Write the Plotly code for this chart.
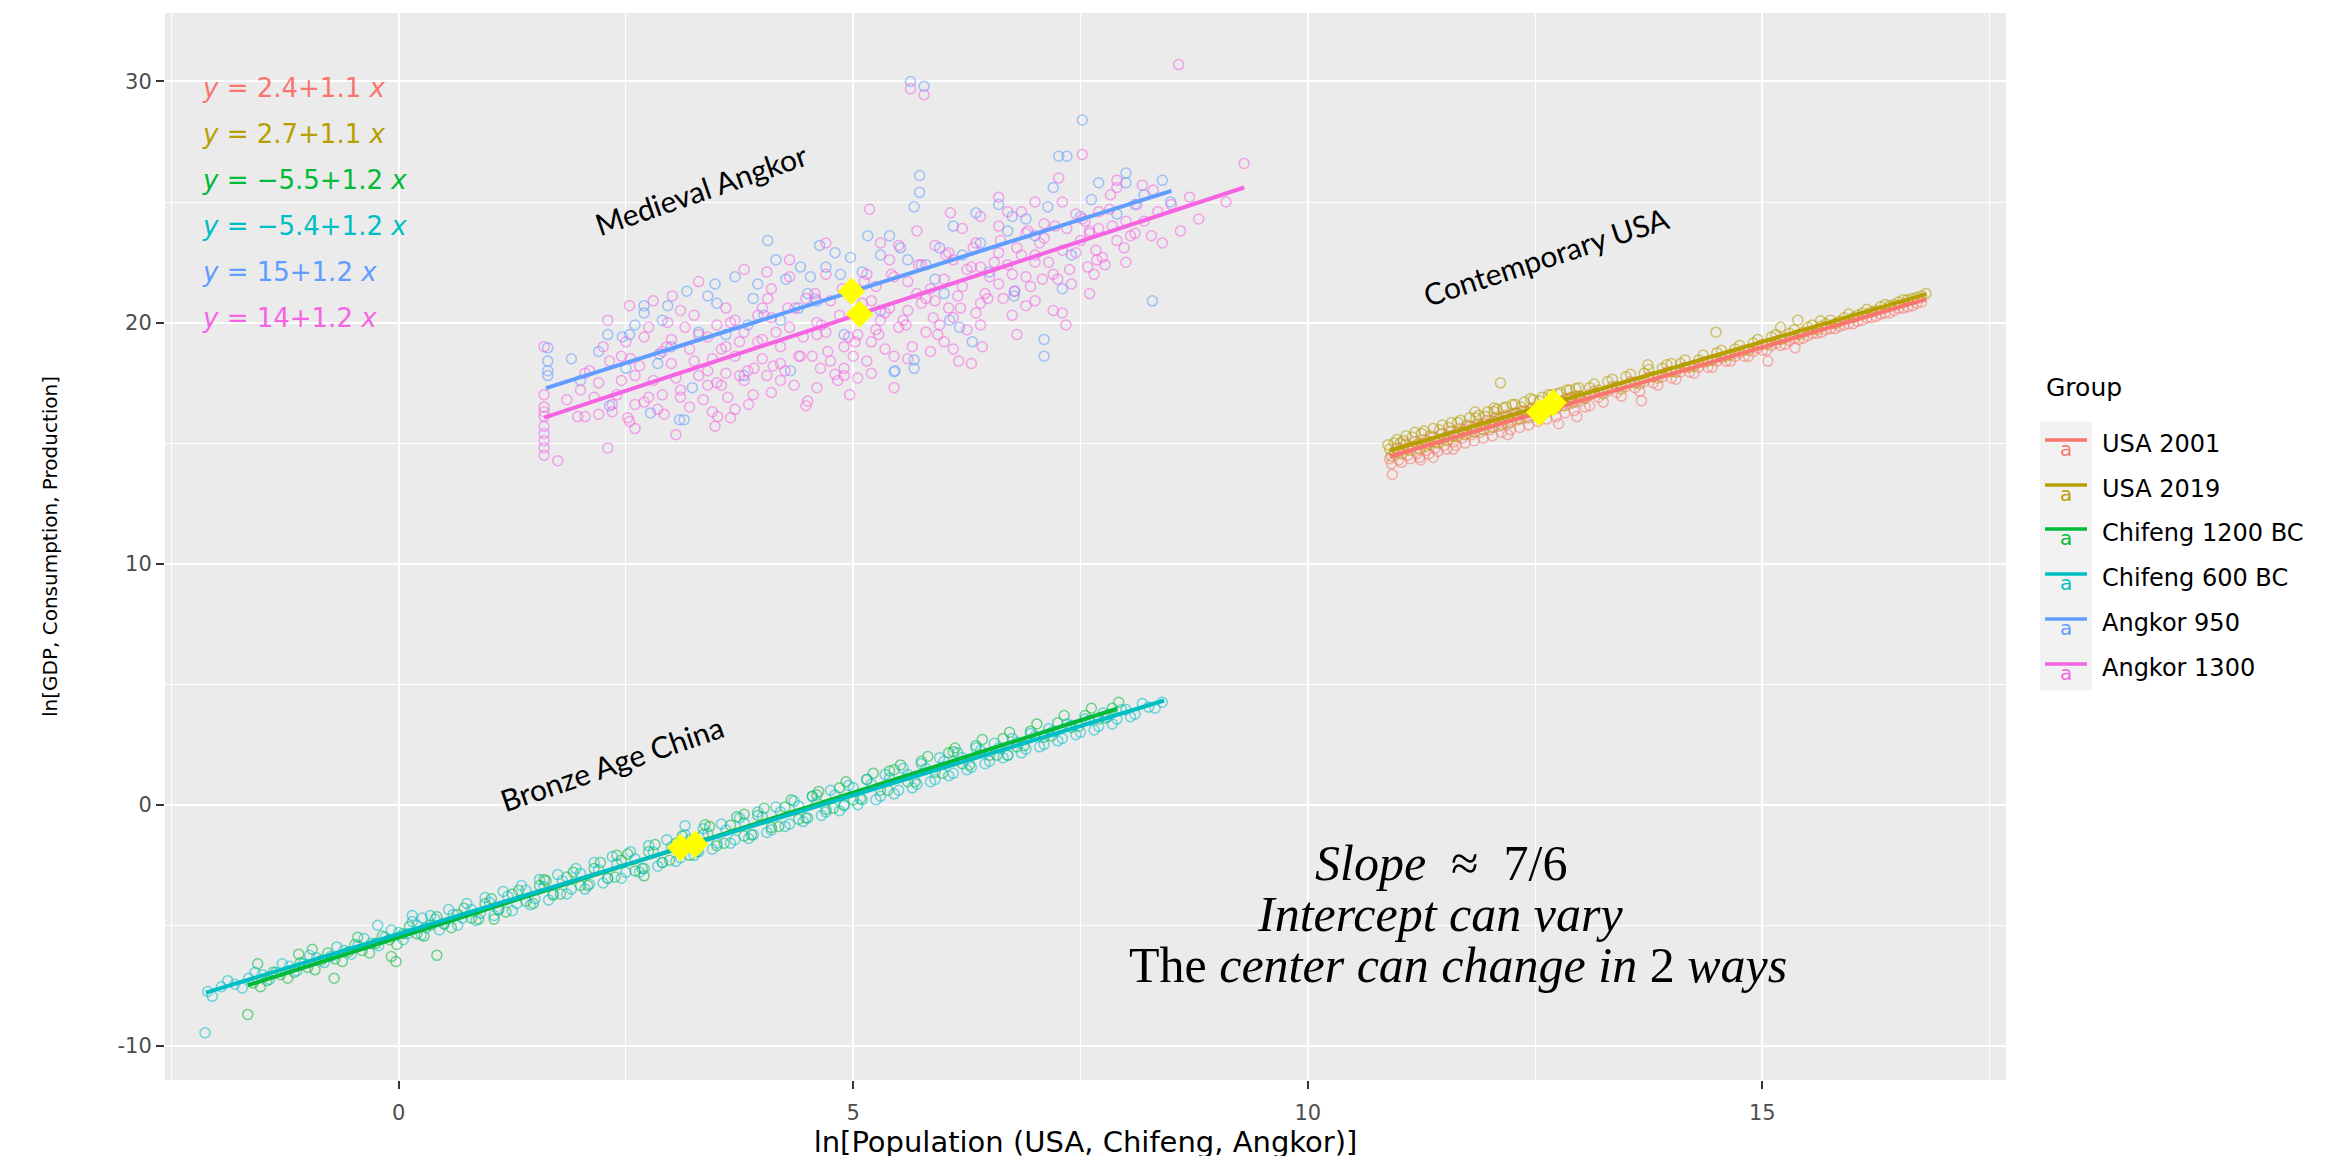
import plotly.graph_objects as go

# ---------------- figure geometry (layout only) ----------------
W, H = 2341, 1156
ML, MR, MT, MB = 157, 343, 5, 84
PW = W - ML - MR
PH = H - MT - MB

def px_x(px):
    return (px - ML) / PW

def px_y(py):
    return (H - MB - py) / PH

# ---------------- data ----------------
groups = ["USA 2001", "USA 2019", "Chifeng 1200 BC", "Chifeng 600 BC", "Angkor 950", "Angkor 1300"]
colors = ["#F8766D", "#B79F00", "#00BA38", "#00BFC4", "#619CFF", "#F564E3"]

usa2001_x = [10.90, 10.95, 11.00, 11.05, 11.10, 11.15, 11.20, 11.25, 11.30, 11.35, 11.40, 11.45, 11.50, 11.55,
             11.60, 11.65, 11.70, 11.75, 11.80, 11.85, 11.90, 11.95, 12.00, 12.05, 12.10, 12.15, 12.20, 12.25,
             12.30, 12.35, 12.40, 12.45, 12.50, 12.55, 12.60, 12.65, 12.70, 12.75, 12.80, 12.85, 12.90, 12.95,
             13.00, 13.10, 13.20, 13.30, 13.40, 13.50, 13.60, 13.70, 13.80, 13.90, 14.00, 14.10, 14.20, 14.30,
             14.40, 14.50, 14.60, 14.70, 14.80, 14.90, 15.00, 15.10, 15.20, 15.30, 15.40, 15.50, 15.60, 15.70,
             15.80, 15.90, 16.00, 16.10, 16.20, 16.30, 16.40, 16.50, 16.60, 16.70,
             10.93, 11.24, 11.38, 12.76, 12.96, 13.67, 15.06, 15.36, 11.60, 12.20, 13.10,
             10.92, 10.98, 11.03, 11.08, 11.13, 11.18, 11.23, 11.28, 11.33, 11.38, 11.43, 11.48, 11.53, 11.58,
             11.63, 11.68, 11.73, 11.78, 11.83, 11.88, 11.93, 11.98, 12.03, 12.08, 12.13, 12.18, 12.23, 12.28,
             12.33, 12.38, 12.43, 12.48, 12.53, 12.58, 12.63, 12.68, 12.73, 12.78, 12.83, 12.88, 12.93, 12.98,
             13.05, 13.15, 13.25, 13.35, 13.45, 13.55, 13.65, 13.75, 13.85, 13.95, 14.05, 14.15, 14.25, 14.35,
             14.45, 14.55, 14.65, 14.75, 14.85, 14.95, 15.05, 15.15, 15.25, 15.35, 15.45, 15.55, 15.65, 15.75,
             15.85, 15.95, 16.05, 16.15, 16.25, 16.35, 16.45, 16.55, 16.65, 16.75]
usa2001_y = [14.35, 14.60, 14.30, 14.75, 14.50, 14.85, 14.55, 14.95, 14.70, 15.05, 14.80, 15.15, 14.90, 15.30,
             15.05, 15.45, 15.20, 15.55, 15.35, 15.65, 15.45, 15.80, 15.55, 15.90, 15.70, 16.05, 15.80, 16.15,
             15.95, 16.30, 16.05, 16.40, 16.20, 16.45, 16.30, 16.60, 16.40, 16.75, 16.55, 16.85, 16.65, 16.95,
             16.75, 17.00, 16.90, 17.15, 17.10, 17.35, 17.30, 17.55, 17.50, 17.75, 17.70, 17.95, 17.95, 18.15,
             18.15, 18.40, 18.40, 18.60, 18.60, 18.80, 18.85, 19.05, 19.05, 19.25, 19.30, 19.45, 19.55, 19.70,
             19.75, 19.90, 19.95, 20.10, 20.20, 20.35, 20.40, 20.60, 20.65, 20.80,
             13.70, 14.30, 14.40, 15.80, 16.10, 16.76, 18.40, 18.95, 14.75, 15.35, 16.55,
             14.15, 14.80, 14.20, 14.95, 14.35, 15.05, 14.40, 15.15, 14.55, 15.25, 14.65, 15.40, 14.75, 15.50,
             14.90, 15.60, 15.00, 15.70, 15.10, 15.80, 15.20, 15.95, 15.30, 16.05, 15.45, 16.15, 15.55, 16.25,
             15.65, 16.35, 15.75, 16.45, 15.90, 16.55, 16.00, 16.65, 16.10, 16.75, 16.25, 16.85, 16.35, 16.95,
             16.50, 17.15, 16.70, 17.35, 16.95, 17.55, 17.15, 17.75, 17.40, 17.95, 17.65, 18.15, 17.90, 18.35,
             18.15, 18.55, 18.40, 18.75, 18.60, 18.95, 18.85, 19.15, 19.10, 19.35, 19.35, 19.55, 19.60, 19.75,
             19.85, 19.95, 20.05, 20.20, 20.25, 20.40, 20.50, 20.60, 20.70, 20.85]

usa2019_x = [10.90, 10.95, 11.00, 11.05, 11.10, 11.15, 11.20, 11.25, 11.30, 11.35, 11.40, 11.45, 11.50, 11.55,
             11.60, 11.65, 11.70, 11.75, 11.80, 11.85, 11.90, 11.95, 12.00, 12.05, 12.10, 12.15, 12.20, 12.25,
             12.30, 12.35, 12.40, 12.45, 12.50, 12.55, 12.60, 12.65, 12.70, 12.75, 12.80, 12.85, 12.90, 12.95,
             13.00, 13.10, 13.20, 13.30, 13.40, 13.50, 13.60, 13.70, 13.80, 13.90, 14.00, 14.10, 14.20, 14.30,
             14.40, 14.50, 14.60, 14.70, 14.80, 14.90, 15.00, 15.10, 15.20, 15.30, 15.40, 15.50, 15.60, 15.70,
             15.80, 15.90, 16.00, 16.10, 16.20, 16.30, 16.40, 16.50, 16.60, 16.70, 16.80,
             12.12, 14.49, 15.39, 15.64, 15.20, 10.88, 11.02, 11.84, 12.05, 14.00, 13.74,
             10.92, 10.98, 11.03, 11.08, 11.13, 11.18, 11.23, 11.28, 11.33, 11.38, 11.43, 11.48, 11.53, 11.58,
             11.63, 11.68, 11.73, 11.78, 11.83, 11.88, 11.93, 11.98, 12.03, 12.08, 12.13, 12.18, 12.23, 12.28,
             12.33, 12.38, 12.43, 12.48, 12.53, 12.58, 12.63, 12.68, 12.73, 12.78, 12.83, 12.88, 12.93, 12.98,
             13.05, 13.15, 13.25, 13.35, 13.45, 13.55, 13.65, 13.75, 13.85, 13.95, 14.05, 14.15, 14.25, 14.35,
             14.45, 14.55, 14.65, 14.75, 14.85, 14.95, 15.05, 15.15, 15.25, 15.35, 15.45, 15.55, 15.65, 15.75,
             15.85, 15.95, 16.05, 16.15, 16.25, 16.35, 16.45, 16.55, 16.65, 16.75]
usa2019_y = [14.75, 15.00, 14.65, 15.10, 14.80, 15.25, 14.95, 15.40, 14.85, 15.30, 15.05, 15.55, 15.20, 15.65,
             15.30, 15.85, 15.45, 15.75, 15.55, 16.05, 15.70, 16.10, 15.80, 16.30, 16.00, 16.45, 16.10, 16.60,
             16.25, 16.50, 16.30, 16.85, 16.40, 16.75, 16.50, 17.00, 16.65, 17.05, 16.75, 17.20, 16.90, 17.25,
             16.95, 17.30, 17.20, 17.55, 17.35, 17.75, 17.50, 17.90, 17.75, 18.10, 17.95, 18.30, 18.15, 18.45,
             18.40, 18.75, 18.60, 18.90, 18.85, 19.15, 19.10, 19.40, 19.30, 19.55, 19.50, 19.80, 19.70, 19.95,
             19.95, 20.20, 20.20, 20.40, 20.45, 20.65, 20.70, 20.85, 20.95, 21.05, 21.20,
             17.50, 19.60, 20.10, 20.07, 19.80, 14.93, 15.00, 16.30, 16.45, 18.30, 18.25,
             14.45, 15.15, 14.55, 15.30, 14.70, 15.45, 14.75, 15.50, 14.95, 15.60, 15.00, 15.75, 15.10, 15.85,
             15.25, 15.95, 15.35, 16.05, 15.45, 16.15, 15.55, 16.30, 15.65, 16.40, 15.75, 16.50, 15.85, 16.60,
             16.00, 16.70, 16.05, 16.80, 16.20, 16.90, 16.30, 17.00, 16.45, 17.10, 16.55, 17.20, 16.70, 17.30,
             16.85, 17.45, 17.05, 17.65, 17.25, 17.85, 17.45, 18.05, 17.70, 18.25, 17.95, 18.45, 18.20, 18.65,
             18.45, 18.85, 18.65, 19.05, 18.85, 19.30, 19.10, 19.50, 19.35, 19.70, 19.60, 19.90, 19.85, 20.10,
             20.05, 20.35, 20.30, 20.55, 20.50, 20.75, 20.75, 20.95, 21.00, 21.10]

chifeng1200_x = [-1.60, -1.45, -1.30, -1.15, -1.00, -0.85, -0.70, -0.55, -0.40, -0.25, -0.10, 0.05, 0.20, 0.35,
                 0.50, 0.65, 0.80, 0.95, 1.10, 1.25, 1.40, 1.55, 1.70, 1.85, 2.00, 2.15, 2.30, 2.45, 2.60, 2.75,
                 2.90, 3.05, 3.20, 3.35, 3.50, 3.65, 3.80, 3.95, 4.10, 4.25, 4.40, 4.55, 4.70, 4.85, 5.00, 5.15,
                 5.30, 5.45, 5.60, 5.75, 5.90, 6.05, 6.20, 6.35, 6.50, 6.65, 6.80, 6.95, 7.10, 7.25, 7.40, 7.55,
                 7.70, 7.85,
                 -1.66, -1.55, -0.71, -1.10, -0.95, -0.45, -0.08, -0.03, 0.42, 3.37, 1.60, 2.40, 3.80, 4.60,
                 5.40, 6.10, 1.05, 2.70, 4.90, 6.70,
                 -1.52, -1.38, -1.22, -1.08, -0.92, -0.78, -0.62, -0.48, -0.32, -0.18, -0.02, 0.12, 0.28, 0.42,
                 0.58, 0.72, 0.88, 1.02, 1.18, 1.32, 1.48, 1.62, 1.78, 1.92, 2.08, 2.22, 2.38, 2.52, 2.68, 2.82,
                 2.98, 3.12, 3.28, 3.42, 3.58, 3.72, 3.88, 4.02, 4.18, 4.32, 4.48, 4.62, 4.78, 4.92, 5.08, 5.22,
                 5.38, 5.52, 5.68, 5.82, 5.98, 6.12, 6.28, 6.42, 6.58, 6.72, 6.88, 7.02, 7.18, 7.32, 7.48, 7.62,
                 7.78, 7.92]
chifeng1200_y = [-7.40, -7.30, -7.05, -6.95, -6.75, -6.45, -6.40, -6.10, -6.05, -5.75, -5.60, -5.35, -5.35, -5.00,
                 -4.95, -4.55, -4.70, -4.10, -4.35, -3.70, -4.00, -3.35, -3.75, -3.00, -3.35, -2.65, -3.05, -2.30,
                 -2.75, -1.95, -2.40, -1.60, -2.10, -1.25, -1.70, -0.85, -1.30, -0.45, -0.95, -0.10, -0.60, 0.35,
                 -0.20, 0.70, 0.20, 1.05, 0.60, 1.45, 0.95, 1.80, 1.35, 2.15, 1.70, 2.45, 2.05, 2.75, 2.40, 3.05,
                 2.80, 3.40, 3.20, 3.70, 3.55, 4.00,
                 -8.70, -6.60, -7.20, -6.20, -6.00, -5.50, -6.30, -6.50, -6.25, -0.83, -3.10, -2.10, -0.40, 0.40,
                 1.40, 2.20, -4.75, -2.95, 0.00, 2.05,
                 -7.55, -6.95, -7.20, -6.55, -6.85, -6.15, -6.50, -5.80, -6.15, -5.45, -5.80, -5.05, -5.45, -4.65,
                 -5.10, -4.30, -4.75, -3.90, -4.45, -3.55, -4.10, -3.15, -3.70, -2.80, -3.35, -2.40, -3.00, -2.05,
                 -2.65, -1.65, -2.30, -1.30, -1.95, -0.90, -1.60, -0.50, -1.25, -0.15, -0.90, 0.20, -0.55, 0.55,
                 -0.15, 0.95, 0.25, 1.30, 0.60, 1.65, 0.95, 2.00, 1.30, 2.35, 1.65, 2.70, 2.05, 3.00, 2.45, 3.35,
                 2.85, 3.70, 3.25, 4.00, 3.60, 4.25]

chifeng600_x = [-2.10, -1.95, -1.80, -1.65, -1.50, -1.35, -1.20, -1.05, -0.90, -0.75, -0.60, -0.45, -0.30, -0.15,
                0.00, 0.10, 0.20, 0.30, 0.40, 0.50, 0.60, 0.70, 0.80, 0.90, 1.00, 1.10, 1.20, 1.30, 1.40, 1.50,
                1.60, 1.70, 1.80, 1.90, 2.00, 2.10, 2.20, 2.30, 2.40, 2.50, 2.60, 2.70, 2.80, 2.90, 3.00, 3.10,
                3.20, 3.30, 3.40, 3.50, 3.60, 3.70, 3.80, 3.90, 4.00, 4.10, 4.20, 4.30, 4.40, 4.50, 4.60, 4.70,
                4.80, 4.90, 5.00, 5.10, 5.20, 5.30, 5.40, 5.50, 5.60, 5.70, 5.80, 5.90, 6.00, 6.10, 6.20, 6.30,
                6.40, 6.50, 6.60, 6.70, 6.80, 6.90, 7.00, 7.10, 7.20, 7.30, 7.40, 7.50, 7.60, 7.70, 7.80, 7.90,
                8.00, 8.10, 8.25, 8.40,
                -2.13, 0.15, 0.26, 3.15, -0.23,
                -2.05, -1.88, -1.72, -1.58, -1.42, -1.28, -1.12, -0.98, -0.82, -0.68, -0.52, -0.38, -0.22, -0.08,
                0.05, 0.15, 0.25, 0.35, 0.45, 0.55, 0.65, 0.75, 0.85, 0.95, 1.05, 1.15, 1.25, 1.35, 1.45, 1.55,
                1.65, 1.75, 1.85, 1.95, 2.05, 2.15, 2.25, 2.35, 2.45, 2.55, 2.65, 2.75, 2.85, 2.95, 3.05, 3.15,
                3.25, 3.35, 3.45, 3.55, 3.65, 3.75, 3.85, 3.95, 4.05, 4.15, 4.25, 4.35, 4.45, 4.55, 4.65, 4.75,
                4.85, 4.95, 5.05, 5.15, 5.25, 5.35, 5.45, 5.55, 5.65, 5.75, 5.85, 5.95, 6.05, 6.15, 6.25, 6.35,
                6.45, 6.55, 6.65, 6.75, 6.85, 6.95, 7.05, 7.15, 7.25, 7.35, 7.45, 7.55, 7.65, 7.75, 7.85, 7.95,
                8.05, 8.18, 8.32]
chifeng600_y = [-7.75, -7.55, -7.45, -7.20, -7.05, -6.95, -6.70, -6.60, -6.35, -6.30, -6.05, -5.85, -5.75, -5.50,
                -5.30, -5.35, -5.00, -5.10, -4.75, -4.95, -4.55, -4.70, -4.35, -4.50, -4.05, -4.35, -3.80, -4.10,
                -3.55, -3.90, -3.40, -3.70, -3.15, -3.50, -2.85, -3.30, -2.70, -3.05, -2.45, -2.80, -2.25, -2.65,
                -1.95, -2.40, -1.75, -2.20, -1.45, -1.95, -1.20, -1.60, -1.05, -1.45, -0.75, -1.25, -0.50, -1.05,
                -0.30, -0.80, -0.05, -0.55, 0.10, -0.30, 0.40, -0.05, 0.70, 0.20, 0.85, 0.35, 1.10, 0.60, 1.25,
                0.85, 1.50, 1.05, 1.80, 1.30, 1.95, 1.55, 2.25, 1.80, 2.35, 2.05, 2.60, 2.30, 2.85, 2.50, 3.05,
                2.75, 3.30, 3.00, 3.50, 3.25, 3.65, 3.55, 3.95, 3.75, 4.05, 4.25,
                -9.46, -4.60, -4.70, -0.87, -5.00,
                -7.95, -7.30, -7.60, -6.95, -7.25, -6.60, -6.90, -6.25, -6.55, -5.90, -6.20, -5.55, -5.85, -5.20,
                -5.60, -4.85, -5.40, -4.60, -5.20, -4.35, -5.00, -4.10, -4.80, -3.85, -4.60, -3.60, -4.40, -3.35,
                -4.15, -3.10, -3.95, -2.90, -3.70, -2.65, -3.50, -2.40, -3.25, -2.15, -3.05, -1.95, -2.80, -1.70,
                -2.55, -1.45, -2.35, -1.25, -2.10, -1.00, -1.85, -0.80, -1.60, -0.55, -1.40, -0.30, -1.15, -0.10,
                -0.90, 0.15, -0.70, 0.35, -0.45, 0.60, -0.25, 0.80, 0.00, 1.05, 0.20, 1.25, 0.45, 1.50, 0.70,
                1.70, 0.95, 1.95, 1.20, 2.15, 1.45, 2.35, 1.70, 2.55, 1.95, 2.75, 2.15, 2.95, 2.40, 3.15, 2.65,
                3.35, 2.90, 3.55, 3.10, 3.80, 3.35, 3.95, 3.65, 4.20, 4.00]

angkor950_x = [1.64, 1.64, 1.64, 1.64, 2.30, 2.46, 2.54, 2.32, 2.77, 3.09, 3.14, 3.23, 2.85, 2.87, 2.70, 2.70,
               2.96, 3.17, 3.50, 3.48, 3.70, 3.84, 4.02, 4.06, 4.31, 4.26, 4.42, 4.53, 4.70, 4.63, 4.86, 4.97,
               5.16, 5.30, 5.52, 5.46, 5.67, 5.67, 5.45, 5.63, 5.78, 5.73, 5.73, 5.67, 6.06, 6.17, 6.31, 6.35,
               6.60, 6.70, 6.77, 6.77, 7.10, 7.10, 7.14, 7.30, 7.26, 7.35, 7.52, 7.62, 8.00, 8.00, 8.29, 8.49,
               6.90, 5.90, 4.40, 3.90, 2.00, 2.50, 3.00, 3.60, 4.20, 4.60, 5.00, 5.30, 5.80, 6.20, 6.50, 7.00,
               7.50, 7.90, 8.20,
               2.20, 2.60, 3.30, 3.40, 3.95, 4.15, 4.50, 4.80, 5.10, 5.40, 5.60, 5.95, 6.10, 6.40, 6.75, 7.20,
               7.70, 8.10, 8.40, 1.90, 2.90, 3.80, 4.90, 6.00, 7.40]
angkor950_y = [18.95, 18.00, 17.80, 18.40, 19.50, 19.40, 19.50, 16.55, 16.25, 15.97, 15.97, 17.30, 18.30, 18.70,
               20.70, 20.40, 20.70, 21.30, 20.80, 21.60, 21.90, 19.90, 20.30, 23.40, 18.00, 21.80, 22.30, 21.90,
               22.30, 23.20, 22.00, 22.70, 23.60, 22.80, 23.10, 18.00, 18.45, 18.10, 17.96, 30.00, 29.80, 26.10,
               25.40, 24.80, 20.10, 19.80, 19.20, 24.55, 24.90, 23.80, 21.30, 21.10, 19.30, 18.60, 24.80, 21.40,
               26.90, 26.90, 28.40, 25.10, 26.20, 25.80, 20.90, 25.00, 24.30, 21.80, 20.60, 21.00, 17.60, 18.10,
               19.00, 19.50, 20.10, 20.90, 21.30, 20.50, 22.40, 22.80, 22.10, 23.60, 24.40, 24.50, 25.30,
               18.80, 19.90, 19.60, 21.10, 21.60, 22.60, 21.20, 22.90, 22.10, 23.60, 22.60, 23.10, 24.00, 23.30,
               24.40, 25.60, 25.80, 24.90, 25.90, 18.50, 20.10, 17.80, 19.50, 21.20, 22.80]

angkor1300_x = [1.60, 1.60, 1.60, 1.60, 1.60, 1.60, 1.60, 1.60, 1.60, 1.75, 1.60,
                1.97, 2.05, 2.30, 2.32, 2.54, 2.52, 2.54, 2.20, 2.40, 2.10, 2.45, 2.60, 2.35, 2.00, 1.85, 2.50,
                2.70, 2.96, 3.01, 2.92, 3.05, 3.48, 3.51, 2.80, 3.00, 3.20, 3.30, 3.40, 2.90, 3.10, 3.35, 3.45,
                2.75, 3.15, 3.25, 3.40,
                3.62, 3.55, 3.65, 3.70, 3.84, 3.91, 4.05, 4.06, 3.60, 3.70, 3.80, 3.95, 4.00, 4.10, 4.20, 4.30,
                4.40, 4.48, 4.50, 4.48, 4.36, 4.58, 4.20, 4.10, 3.75, 4.45,
                4.64, 4.80, 4.83, 4.96, 5.18, 5.45, 4.70, 4.85, 4.90, 5.00, 5.05, 5.10, 5.20, 5.25, 5.30, 5.35,
                5.40, 5.50, 5.45, 5.00, 5.15, 4.75, 5.63, 5.78,
                5.60, 5.70, 5.80, 5.90, 5.93, 6.00, 6.07, 6.10, 6.16, 6.30, 6.42, 6.20, 6.30, 6.40, 6.50, 5.75,
                6.05, 6.35, 5.85, 6.25,
                6.75, 6.90, 6.60, 6.70, 6.80, 6.90, 7.00, 7.10, 7.20, 7.34, 7.26, 7.52, 7.45, 7.30, 6.60, 6.85,
                7.40, 7.00,
                7.58, 7.77, 7.67, 7.74, 7.60, 7.70, 7.83, 8.18, 8.30, 8.60, 9.30, 8.58, 8.00, 7.90,
                2.20, 2.60, 2.90, 3.20, 3.60, 3.90, 4.20, 4.60, 4.90, 5.20, 5.60, 6.00, 6.40, 6.80, 7.20, 7.60,
                8.00, 8.40, 8.80, 9.10, 2.30, 2.80, 3.30, 3.80, 4.30, 4.70, 5.30, 5.70, 6.20, 6.60, 7.00, 7.70,
                8.20, 3.00, 3.50, 4.00, 4.60, 5.60, 6.10, 6.60, 7.10, 7.50,
                2.15, 2.45, 2.65, 2.85, 3.05, 3.25, 3.45, 3.55, 3.75, 3.85, 4.05, 4.15, 4.25, 4.35, 4.55, 4.65,
                4.75, 4.95, 5.05, 5.15, 5.25, 5.35, 5.45, 5.55, 5.65, 5.75, 5.85, 5.95, 6.05, 6.15, 6.25, 6.35,
                6.45, 6.55, 6.65, 6.75, 6.85, 6.95, 7.05, 7.15, 7.25, 7.35, 7.45, 7.55, 7.65, 7.85, 8.05, 8.35,
                8.70, 2.25, 2.75, 3.60, 4.10, 4.70, 5.40, 5.90, 6.40, 6.90, 7.30, 7.90,
                2.05, 2.35, 2.55, 2.70, 2.95, 3.10, 3.30, 3.50, 3.65, 3.80, 3.95, 4.12, 4.28, 4.42, 4.58, 4.72,
                4.88, 5.02, 5.12, 5.28, 5.42, 5.58, 5.72, 5.88, 6.02, 6.18, 6.32, 6.48, 6.62, 6.78, 6.92, 7.08,
                7.22, 7.38, 7.52, 7.68, 7.82, 7.98, 8.12, 8.28, 2.60, 3.10, 3.70, 4.30, 4.90, 5.50, 6.10, 6.70,
                7.30, 7.90, 3.40, 4.00, 4.60, 5.20, 5.80, 6.40, 7.00, 7.60, 8.10, 8.50]
angkor1300_y = [19.00, 17.00, 16.50, 16.10, 15.70, 15.40, 15.10, 14.80, 14.50, 14.27, 16.30,
                16.10, 16.10, 14.80, 18.40, 20.70, 16.05, 15.90, 17.50, 17.00, 18.00, 18.60, 17.80, 16.60, 17.20,
                16.80, 19.20,
                19.40, 20.00, 21.10, 16.20, 15.35, 15.70, 16.10, 17.60, 18.30, 18.90, 17.80, 19.40, 18.80, 17.20,
                16.80, 18.50, 16.90, 19.80, 20.30, 17.40,
                16.90, 17.40, 16.05, 20.10, 18.00, 18.10, 22.10, 21.00, 19.00, 18.60, 19.60, 19.20, 18.50, 20.20,
                19.00, 19.80, 18.60, 16.55, 16.75, 21.00, 20.60, 21.20, 17.60, 17.10, 17.80, 19.40,
                18.10, 17.85, 17.60, 17.00, 24.70, 17.30, 19.60, 20.30, 19.00, 18.60, 19.50, 20.80, 19.20, 21.50,
                20.10, 18.90, 20.60, 19.80, 21.90, 21.20, 22.00, 20.90, 29.70, 29.45,
                20.50, 21.20, 19.60, 20.90, 19.50, 21.80, 24.55, 20.20, 18.40, 18.30, 19.00, 21.50, 22.30, 20.80,
                21.90, 22.40, 22.90, 23.30, 18.80, 19.70,
                20.30, 20.70, 21.60, 22.40, 23.10, 21.90, 22.80, 23.50, 22.00, 19.90, 26.00, 26.97, 24.50, 23.00,
                24.00, 24.60, 21.60, 20.90,
                22.30, 22.40, 23.00, 22.70, 23.70, 23.90, 25.30, 25.70, 25.50, 23.80, 26.60, 30.70, 24.20, 23.40,
                16.20, 16.60, 17.00, 16.50, 17.90, 17.00, 18.30, 17.30, 18.10, 17.90, 18.50, 19.20, 19.90, 19.50,
                20.50, 21.20, 22.50, 23.30, 24.30, 25.00, 20.10, 20.90, 21.70, 22.20, 22.60, 23.30, 23.30, 23.80,
                23.90, 25.20, 25.00, 24.60, 24.20, 19.30, 19.90, 20.60, 20.00, 21.70, 22.60, 22.90, 24.10, 23.40,
                16.90, 17.60, 18.20, 16.40, 17.70, 18.40, 16.30, 18.90, 19.20, 16.60, 17.80, 19.60, 18.00, 17.40,
                18.60, 19.90, 18.40, 19.40, 17.70, 18.40, 19.70, 20.40, 18.60, 20.10, 19.00, 20.80, 21.40, 19.90,
                20.60, 21.10, 22.20, 20.40, 21.20, 22.50, 21.00, 22.00, 22.80, 21.50, 23.30, 22.50, 21.80, 23.90,
                22.90, 24.20, 22.00, 24.00, 23.60, 24.60, 25.20, 19.00, 19.80, 20.60, 21.40, 22.00, 22.60, 23.20,
                24.40, 23.70, 25.00, 25.90,
                17.90, 16.30, 18.50, 16.70, 19.00, 16.90, 19.50, 17.50, 20.00, 17.60, 20.30, 18.20, 20.60, 18.60,
                21.00, 18.80, 21.40, 19.20, 21.70, 19.50, 22.00, 19.90, 22.40, 20.20, 22.80, 20.60, 23.10, 21.00,
                23.40, 21.30, 23.80, 21.80, 24.00, 22.20, 24.30, 22.60, 24.70, 23.10, 24.90, 23.60, 15.60, 20.50,
                16.40, 21.90, 17.80, 23.20, 18.90, 24.60, 20.40, 25.60, 18.00, 19.30, 19.50, 20.90, 21.00, 22.30,
                22.50, 23.80, 23.70, 24.90]

series_x = [usa2001_x, usa2019_x, chifeng1200_x, chifeng600_x, angkor950_x, angkor1300_x]
series_y = [usa2001_y, usa2019_y, chifeng1200_y, chifeng600_y, angkor950_y, angkor1300_y]

# fitted lines (per group) and the rounded equations printed on the chart
fit_intercept = [2.40, 2.70, -5.50, -5.36, 15.35, 14.07]
fit_slope = [1.105, 1.10, 1.20, 1.15, 1.19, 1.24]
fit_xmin = [10.90, 10.90, -1.66, -2.12, 1.62, 1.60]
fit_xmax = [16.80, 16.80, 7.90, 8.42, 8.50, 9.30]
eq_intercept_text = ["2.4", "2.7", "\u22125.5", "\u22125.4", "15", "14"]
eq_slope_text = ["1.1", "1.1", "1.2", "1.2", "1.2", "1.2"]

# group centres (yellow diamonds)
center_x = [12.55, 12.70, 3.10, 3.26, 4.98, 5.07]
center_y = [16.27, 16.67, -1.78, -1.64, 21.30, 20.35]

x_tickvals = [0, 5, 10, 15]
x_ticktext = ["0", "5", "10", "15"]
y_tickvals = [-10, 0, 10, 20, 30]
y_ticktext = ["-10", "0", "10", "20", "30"]

x_title = "ln[Population (USA, Chifeng, Angkor)]"
y_title = "ln[GDP, Consumption, Production]"

# ---------------- figure ----------------
SANS = "DejaVu Sans, Liberation Sans, sans-serif"
fig = go.Figure()

for g, c, xs, ys in zip(groups, colors, series_x, series_y):
    fig.add_trace(go.Scatter(
        x=xs, y=ys, mode="markers", name=g, showlegend=False,
        marker=dict(symbol="circle-open", size=10, color=c, opacity=0.55, line=dict(width=1.5, color=c)),
        hoverinfo="skip"))

for g, c, a, b, x0, x1 in zip(groups, colors, fit_intercept, fit_slope, fit_xmin, fit_xmax):
    fig.add_trace(go.Scatter(
        x=[x0, x1], y=[a + b * x0, a + b * x1], mode="lines", showlegend=False,
        line=dict(color=c, width=4), hoverinfo="skip"))

fig.add_trace(go.Scatter(
    x=center_x, y=center_y, mode="markers", showlegend=False,
    marker=dict(symbol="diamond", size=21, color="#FFFF00", line=dict(width=0)),
    hoverinfo="skip"))

annotations = []
shapes = []

# regression equations (top-left)
eq_py = [80, 126, 172, 218, 264, 310]
for c, ai, si, py in zip(colors, eq_intercept_text, eq_slope_text, eq_py):
    annotations.append(dict(
        xref="paper", yref="paper", x=px_x(192), y=px_y(py), xanchor="left", yanchor="middle",
        text=f"<i>y</i> = {ai}+{si} <i>x</i>", showarrow=False,
        font=dict(family=SANS, size=26, color=c)))

# group labels
LABEL_FONT = "Lato, Open Sans, sans-serif"
annotations += [
    dict(x=3.33, y=25.55, xref="x", yref="y", text="Medieval Angkor", textangle=-19, showarrow=False,
         font=dict(family=LABEL_FONT, size=30, color="black")),
    dict(x=12.62, y=22.75, xref="x", yref="y", text="Contemporary USA", textangle=-18, showarrow=False,
         font=dict(family=LABEL_FONT, size=30, color="black")),
    dict(x=2.35, y=1.72, xref="x", yref="y", text="Bronze Age China", textangle=-19, showarrow=False,
         font=dict(family=LABEL_FONT, size=30, color="black")),
]

SERIF = "Liberation Serif, Times New Roman, serif"
SP = "\u2002"
for txt, cx, cy in [("<i>Slope</i>" + SP + "\u2248" + SP + "7/6", 1433, 855),
                    ("<i>Intercept can vary</i>", 1432, 906),
                    ("The <i>center can change in</i> 2 <i>ways</i>", 1450, 957)]:
    annotations.append(dict(xref="paper", yref="paper", x=px_x(cx), y=px_y(cy), xanchor="center",
                            yanchor="middle", text=txt, showarrow=False,
                            font=dict(family=SERIF, size=50, color="black")))

# custom ggplot-style legend
annotations.append(dict(xref="paper", yref="paper", x=px_x(2036), y=px_y(379), xanchor="left",
                        yanchor="middle", text="Group", showarrow=False,
                        font=dict(family=SANS, size=25, color="black")))
key_py = [436, 481, 525, 570, 615, 660]
for g, c, py in zip(groups, colors, key_py):
    shapes.append(dict(type="rect", xref="paper", yref="paper", x0=px_x(2032), x1=px_x(2084),
                       y0=px_y(py - 22.5), y1=px_y(py + 22.5), fillcolor="#F2F2F2", line=dict(width=0),
                       layer="below"))
    shapes.append(dict(type="line", xref="paper", yref="paper", x0=px_x(2037), x1=px_x(2079),
                       y0=px_y(py - 4), y1=px_y(py - 4), line=dict(color=c, width=3.5)))
    annotations.append(dict(xref="paper", yref="paper", x=px_x(2058), y=px_y(py + 5), xanchor="center",
                            yanchor="middle", text="a", showarrow=False,
                            font=dict(family=SANS, size=20, color=c)))
    annotations.append(dict(xref="paper", yref="paper", x=px_x(2092), y=px_y(py), xanchor="left",
                            yanchor="middle", text=g, showarrow=False,
                            font=dict(family=SANS, size=24, color="black")))

fig.update_layout(
    width=W, height=H,
    margin=dict(l=ML, r=MR, t=MT, b=MB),
    paper_bgcolor="white", plot_bgcolor="#EBEBEB",
    showlegend=False,
    annotations=annotations, shapes=shapes,
    font=dict(family=SANS),
)
fig.update_xaxes(
    range=[-2.57, 17.68], tickvals=x_tickvals, ticktext=x_ticktext, automargin=False,
    ticks="outside", ticklen=8, tickwidth=2, tickcolor="#333333", ticklabelstandoff=6,
    tickfont=dict(family=SANS, size=21, color="#4D4D4D"),
    showgrid=True, gridcolor="white", gridwidth=2.3, zeroline=False, showline=False,
    minor=dict(tick0=2.5, dtick=5, showgrid=True, gridcolor="white", gridwidth=1.2),
    title=dict(text=x_title, font=dict(family=SANS, size=29, color="black"), standoff=3),
)
fig.update_yaxes(
    range=[-11.42, 32.84], tickvals=y_tickvals, ticktext=y_ticktext, automargin=False,
    ticks="outside", ticklen=8, tickwidth=2, tickcolor="#333333",
    tickfont=dict(family=SANS, size=21, color="#4D4D4D"),
    showgrid=True, gridcolor="white", gridwidth=2.3, zeroline=False, showline=False,
    minor=dict(tick0=-5, dtick=10, showgrid=True, gridcolor="white", gridwidth=1.2),
    title=dict(text=y_title, font=dict(family=SANS, size=20, color="black"), standoff=54),
)

fig.write_html("out.html")
